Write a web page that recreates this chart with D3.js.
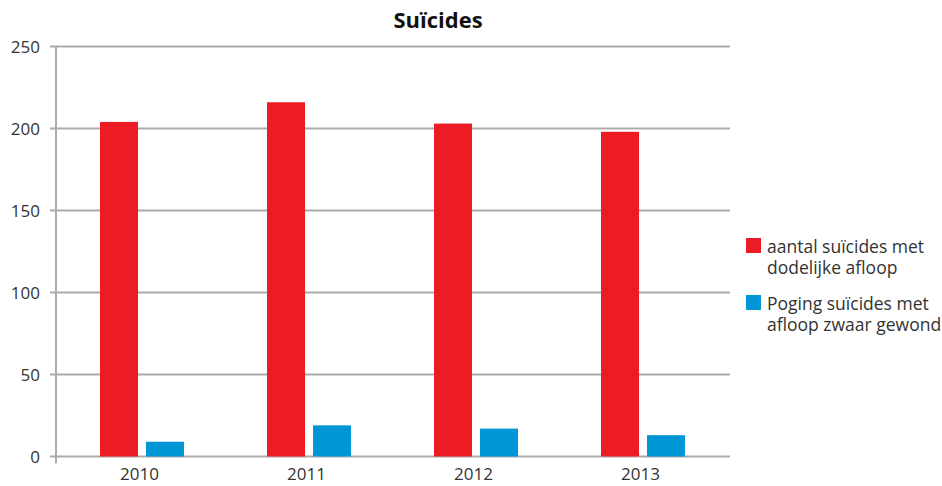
<!DOCTYPE html>
<html>
<head>
<meta charset="utf-8">
<script src="https://cdn.jsdelivr.net/npm/d3@7"></script>
<style>
  body { margin: 0; background: #fff; }
  text { font-family: "Open Sans", "Noto Sans", sans-serif; fill: #333; }
</style>
</head>
<body>
<div id="chart"></div>
<script>
const years = ['2010', '2011', '2012', '2013'];
const dodelijk = [204, 216, 203, 198];
const zwaarGewond = [9, 19, 17, 13];
const seriesNames = ['aantal suïcides met|dodelijke afloop', 'Poging suïcides met|afloop zwaar gewond'];
const seriesColors = ['#ED1C24', '#0096D6'];
const yTicks = [0, 50, 100, 150, 200, 250];

const width = 942, height = 486;
const plotLeft = 56, plotRight = 730, plotTop = 46.5, plotBottom = 456.5;

let svg = d3.select('#chart').append('svg')
            .attr('width', width)
            .attr('height', height);

let y = d3.scaleLinear().domain([0, 250]).range([plotBottom, plotTop]);
let x = d3.scaleBand().domain(years).range([plotLeft, 724]);
let barW = 38;

// gridlines + ticks
svg.append('g').selectAll('line')
   .data(yTicks)
   .join('line')
   .attr('x1', plotLeft - 6)
   .attr('x2', plotRight)
   .attr('y1', d => y(d))
   .attr('y2', d => y(d))
   .attr('stroke', '#ABABAB')
   .attr('stroke-width', 2);

svg.append('line')
   .attr('x1', plotLeft).attr('x2', plotLeft)
   .attr('y1', plotTop).attr('y2', plotBottom + 7)
   .attr('stroke', '#ABABAB')
   .attr('stroke-width', 2);

svg.append('g').selectAll('text')
   .data(yTicks)
   .join('text')
   .attr('x', 40)
   .attr('y', d => y(d) + 6)
   .attr('text-anchor', 'end')
   .style('font-size', '17px')
   .text(d => d);

// bars
let groups = [dodelijk, zwaarGewond];
groups.forEach((vals, s) => {
    svg.append('g').selectAll('rect')
       .data(years)
       .join('rect')
       .attr('x', (d) => x(d) + 44 + s * 46)
       .attr('width', barW)
       .attr('y', (d, i) => y(vals[i]))
       .attr('height', (d, i) => y(0) - y(vals[i]))
       .attr('fill', seriesColors[s]);
});

svg.append('g').selectAll('text')
   .data(years)
   .join('text')
   .attr('x', d => x(d) + x.bandwidth() / 2)
   .attr('y', 480)
   .attr('text-anchor', 'middle')
   .style('font-size', '17px')
   .text(d => d);

// title
svg.append('text')
   .attr('x', 438)
   .attr('y', 28)
   .attr('text-anchor', 'middle')
   .style('font-size', '22px')
   .style('font-weight', 'bold')
   .style('fill', '#111')
   .text('Suïcides');

// legend
let legend = svg.append('g').selectAll('g')
                .data(seriesNames)
                .join('g')
                .attr('transform', (d, i) => `translate(746, ${238 + i * 57})`);

legend.append('rect')
      .attr('width', 15)
      .attr('height', 15)
      .attr('fill', (d, i) => seriesColors[i]);

legend.append('text')
      .attr('x', 21)
      .attr('y', 15)
      .style('font-size', '17.5px')
      .selectAll('tspan')
      .data(d => d.split('|'))
      .join('tspan')
      .attr('x', 21)
      .attr('dy', (d, i) => i === 0 ? 0 : 21)
      .text(d => d);
</script>
</body>
</html>
